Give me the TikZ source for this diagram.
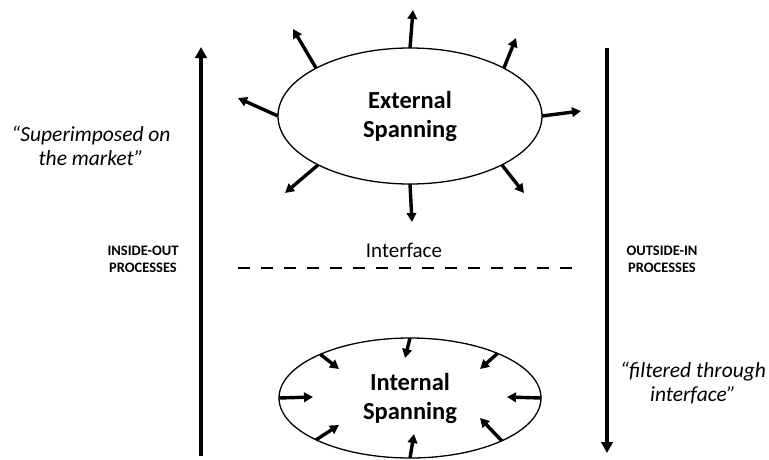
\documentclass[tikz,border=0pt]{standalone}
\usepackage{fontspec}
\setmainfont{Carlito}
\usetikzlibrary{arrows.meta,shapes.geometric}

\begin{document}
\begin{tikzpicture}[
  x = 1pt, y = -1pt,
  blob/.style = {draw, ellipse, line width = 1.3pt, inner sep = 0pt, outer sep = 0pt, align = center,
                 font = \fontsize{24.5}{29}\selectfont\bfseries},
  spoke/.style = {line width = 3.4pt, -{Triangle[length = 9pt, width = 9.5pt]}},
  flow/.style = {line width = 4pt, -{Triangle[length = 11pt, width = 11.5pt]}},
  quote/.style = {align = center, font = \fontsize{21.5}{24}\selectfont\itshape},
  label/.style = {align = center, font = \fontsize{14.5}{17}\selectfont\bfseries}
  ]
  \useasboundingbox (0,0) rectangle (769,459);

  % the two spanning ellipses
  \node[blob, minimum width = 264pt, minimum height = 136pt] (ext) at (410,116) {External\\Spanning};
  \node[blob, minimum width = 262pt, minimum height = 120pt] (int) at (410,398) {Internal\\Spanning};

  % outward arrows
  \foreach \a/\x/\y in {90/413/10, 153/293/29, 180/238/98, 208/285/193,
                        270/412/222, 332/524/193, 0/581/111, 27/516/38}{
    \coordinate (out\a) at (\x,\y);
    \draw[spoke] (ext.\a) -- (out\a);
  }

  % inward arrows
  \foreach \a/\x/\y in {90/405/358, 154/339/369, 180/313/397, 204/339/425,
                        270/414/434, 335/480/418, 0/507/397, 27/480/369}{
    \coordinate (in\a) at (\x,\y);
    \draw[spoke] (int.\a) -- (in\a);
  }

  % process arrows
  \coordinate (lbot) at (201,456);
  \coordinate (ltop) at (201,47);
  \coordinate (rtop) at (607,48);
  \coordinate (rbot) at (607,453);
  \draw[flow] (lbot) -- (ltop);
  \draw[flow] (rtop) -- (rbot);

  % interface
  \coordinate (ifl) at (238,268);
  \coordinate (ifr) at (582,268);
  \draw[line width = 2.8pt, dash pattern = on 12pt off 11pt] (ifl) -- (ifr);
  \node[font = \fontsize{21}{24}\selectfont] (iface) at (404,250) {Interface};

  % texts
  \node[label] (inout) at (143,259) {INSIDE-OUT\\PROCESSES};
  \node[label] (outin) at (662,259) {OUTSIDE-IN\\PROCESSES};
  \node[quote] (superimp) at (91,146) {“Superimposed on\\the market”};
  \node[quote] (filtered) at (693,383) {“filtered through\\interface”};
\end{tikzpicture}
\end{document}
